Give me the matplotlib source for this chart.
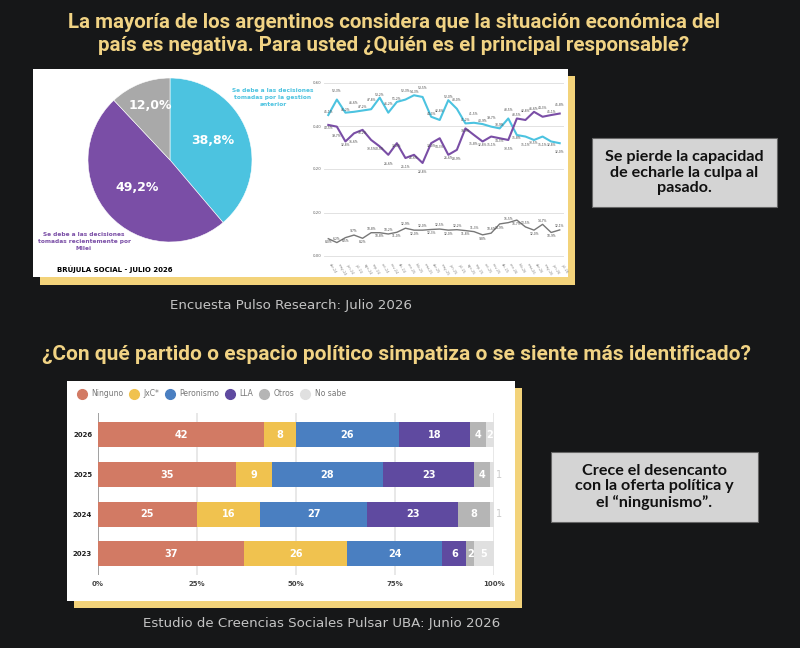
import matplotlib
matplotlib.use('Agg')
import matplotlib.pyplot as plt
import matplotlib.font_manager as fm
from matplotlib.patches import Rectangle
from matplotlib.lines import Line2D

# --- data -------------------------------------------------------------
pie_labels = ['gestion anterior', 'Milei', 'otros']
pie_values = [38.8, 49.2, 12.0]

# serie mensual (tendencia) de la encuesta Pulso
anterior = [0.451, 0.523, 0.462, 0.466, 0.472, 0.478, 0.532, 0.462, 0.512, 0.523,
            0.543, 0.535, 0.443, 0.428, 0.520, 0.480, 0.412, 0.415, 0.409, 0.397,
            0.389, 0.435, 0.358, 0.351, 0.335, 0.351, 0.328, 0.320]
milei = [0.405, 0.397, 0.328, 0.366, 0.382, 0.335, 0.305, 0.266, 0.320, 0.251,
         0.266, 0.228, 0.320, 0.343, 0.266, 0.289, 0.389, 0.358, 0.328, 0.351,
         0.343, 0.335, 0.435, 0.428, 0.466, 0.443, 0.451, 0.458]
otros_serie = [0.080, 0.062, 0.085, 0.097, 0.082, 0.108, 0.108, 0.102, 0.110, 0.129,
               0.120, 0.120, 0.123, 0.125, 0.120, 0.122, 0.118, 0.113, 0.098, 0.106,
               0.149, 0.155, 0.167, 0.135, 0.120, 0.147, 0.109, 0.121]
meses = ['abr', 'may', 'jun', 'jul', 'ago', 'sep', 'oct', 'nov', 'dic', 'ene', 'feb', 'mar',
         'abr', 'may', 'jun', 'jul', 'ago', 'sep', 'oct', 'nov', 'dic', 'ene', 'feb', 'mar',
         'abr', 'may', 'jun', 'jul']
anios = ['24'] * 9 + ['25'] * 12 + ['26'] * 7
fechas = [m + '-' + a for m, a in zip(meses, anios)]

years = ['2026', '2025', '2024', '2023']
partidos = ['Ninguno', 'JxC*', 'Peronismo', 'LLA', 'Otros', 'No sabe']
ninguno = [42, 35, 25, 37]
jxc = [8, 9, 16, 26]
peronismo = [26, 28, 27, 24]
lla = [18, 23, 23, 6]
otros = [4, 4, 8, 2]
no_sabe = [2, 1, 1, 5]

# --- style ------------------------------------------------------------
W, H = 800, 648
BG = '#161718'
GOLD = '#f1d384'
CYAN = '#4cc3e0'
PURPLE = '#7a4ea6'
bar_colors = ['#d27a64', '#f0c24f', '#4a7fc1', '#5f4aa0', '#b5b5b5', '#e0e0e0']

avail = {f.name for f in fm.fontManager.ttflist}
title_font = 'Liberation Sans Narrow' if 'Liberation Sans Narrow' in avail else 'Roboto'
box_font = 'Lato' if 'Lato' in avail else 'DejaVu Sans'


def fbox(x0, y0, x1, y1):
    return [x0 / W, 1 - y1 / H, (x1 - x0) / W, (y1 - y0) / H]


def fx(x):
    return x / W


def fy(y):
    return 1 - y / H


def card(fig, x0, y0, x1, y1, face, edge=None, lw=0, z=-5):
    fig.patches.append(Rectangle((fx(x0), fy(y1)), (x1 - x0) / W, (y1 - y0) / H,
                                 transform=fig.transFigure, facecolor=face,
                                 edgecolor=edge if edge else face, linewidth=lw, zorder=z))


def pct(v):
    return f'{v * 100:.1f}%'.replace('.', ',')


fig = plt.figure(figsize=(8, 6.48), dpi=100)
fig.patch.set_facecolor(BG)

# titles
fig.text(0.4925, fy(34), 'La mayoría de los argentinos considera que la situación económica del\n'
         'país es negativa. Para usted ¿Quién es el principal responsable?',
         ha='center', va='center', color=GOLD, fontsize=14.8, fontweight='bold',
         family=title_font, linespacing=1.25)
fig.text(0.496, fy(355), '¿Con qué partido o espacio político simpatiza o se siente más identificado?',
         ha='center', va='center', color=GOLD, fontsize=15, fontweight='bold', family=title_font)

# cards
card(fig, 40, 76, 575, 285, '#f3d37a', z=-6)
card(fig, 33, 69, 568, 277, 'white')
card(fig, 74, 388, 522, 608, '#f3d37a', z=-6)
card(fig, 67, 381, 515, 601, 'white')

# --- pie --------------------------------------------------------------
ax = fig.add_axes(fbox(88, 78, 252, 242))
ax.pie(pie_values, colors=[CYAN, PURPLE, '#a9a9a9'], startangle=90, counterclock=False,
       wedgeprops=dict(edgecolor='white', linewidth=0.4))
ax.set_xlim(-1, 1)
ax.set_ylim(-1, 1)
ax.set_aspect('equal')
for v, (px, py) in zip(pie_values, [(0.52, 0.24), (-0.40, -0.33), (-0.24, 0.66)]):
    ax.text(px, py, f'{v:.1f}%'.replace('.', ','), ha='center', va='center',
            color='white', fontsize=9, fontweight='bold')

fig.text(fx(273), fy(98), 'Se debe a las decisiones\ntomadas por la gestion\nanterior',
         ha='center', va='center', color=CYAN, fontsize=4.2, fontweight='bold', linespacing=1.5)
fig.text(fx(84), fy(242), 'Se debe a las decisiones\ntomadas recientemente por\nMilei',
         ha='center', va='center', color=PURPLE, fontsize=4.2, fontweight='bold', linespacing=1.5)
fig.text(fx(57), fy(269), 'BRÚJULA SOCIAL - JULIO 2026', ha='left', va='center',
         color='black', fontsize=5, fontweight='bold')

# --- line charts --------------------------------------------------------
x = list(range(len(anterior)))
ax1 = fig.add_axes(fbox(324, 78.7, 564, 173.3))
ax1.set_facecolor('none')
ax1.plot(x, anterior, color=CYAN, lw=1.5)
ax1.plot(x, milei, color=PURPLE, lw=1.5)
ax1.set_ylim(0.18, 0.62)
ax1.set_xlim(-0.5, len(x) - 0.5)
ax1.set_yticks([0.2, 0.4, 0.6])
ax1.set_yticklabels(['0,20', '0,40', '0,60'])
ax1.grid(axis='y', color='#dddddd', lw=0.6)
for i in x:
    a, m = anterior[i], milei[i]
    step = 0.005 if i % 2 == 0 else 0.032
    hi, lo = (a, m) if a >= m else (m, a)
    ax1.text(i, hi + step, pct(hi), ha='center', va='bottom', fontsize=2.2, color='#444')
    ax1.text(i, lo - step, pct(lo), ha='center', va='top', fontsize=2.2, color='#444')

ax2 = fig.add_axes(fbox(324, 208.7, 564, 258))
ax2.set_facecolor('none')
ax2.plot(x, otros_serie, color='#777777', lw=1.0)
ax2.set_ylim(-0.01, 0.22)
ax2.set_xlim(-0.5, len(x) - 0.5)
ax2.set_yticks([0.0, 0.2])
ax2.set_yticklabels(['0,00', '0,20'])
ax2.grid(axis='y', color='#dddddd', lw=0.6)
ax2.set_xticks(x)
ax2.set_xticklabels(fechas, rotation=-60, ha='left', fontsize=2.5, color='#888')
for i, v in enumerate(otros_serie):
    up = i % 2 == 1
    ax2.text(i, v + (0.008 if up else -0.008), pct(v),
             ha='center', va='bottom' if up else 'top', fontsize=2.2, color='#444')

for a in (ax1, ax2):
    for s in a.spines.values():
        s.set_visible(False)
    a.tick_params(axis='y', length=0, labelsize=2.8, labelcolor='#666', pad=2)
    a.tick_params(axis='x', length=0)
ax1.set_xticks([])

fig.text(fx(291), fy(305), 'Encuesta Pulso Research: Julio 2026', ha='center', va='center',
         color='#c4c4c4', fontsize=9.6)

# --- stacked bars -------------------------------------------------------
axb = fig.add_axes(fbox(97.7, 413, 494, 575))
axb.set_facecolor('none')
ypos = [3, 2, 1, 0]
series = [ninguno, jxc, peronismo, lla, otros, no_sabe]
left = [0, 0, 0, 0]
for name, vals, col in zip(partidos, series, bar_colors):
    axb.barh(ypos, vals, left=left, height=0.63, color=col, label=name, zorder=3)
    for y, l, v in zip(ypos, left, vals):
        if v >= 2:
            axb.text(l + v / 2, y, str(v), ha='center', va='center', color='white',
                     fontsize=7, fontweight='bold', zorder=4)
        else:
            axb.text(101.2, y, str(v), ha='center', va='center', color='#cccccc',
                     fontsize=7, clip_on=False, zorder=4)
    left = [a + b for a, b in zip(left, vals)]

axb.set_xlim(0, 100)
axb.set_ylim(-0.53, 3.55)
axb.set_yticks(ypos)
axb.set_yticklabels(years, fontsize=5, fontweight='bold', color='#222')
axb.set_xticks([0, 25, 50, 75, 100])
axb.set_xticklabels(['0%', '25%', '50%', '75%', '100%'], fontsize=5, fontweight='bold', color='#444')
axb.tick_params(length=0, pad=4)
for s in axb.spines.values():
    s.set_visible(False)
for xv in [0, 25, 50, 75, 100]:
    axb.axvline(xv, color='#999999' if xv == 0 else '#e6e6e6', lw=1.3, zorder=1)

handles = [Line2D([], [], marker='o', ls='', ms=7, mfc=c, mec=c) for c in bar_colors]
fig.legend(handles, partidos, loc='center left', bbox_to_anchor=(fx(74), fy(394)),
           ncol=6, frameon=False, fontsize=5.5, labelcolor='#777', handletextpad=0.2,
           columnspacing=0.45, borderaxespad=0, borderpad=0)

fig.text(fx(322), fy(623), 'Estudio de Creencias Sociales Pulsar UBA: Junio 2026', ha='center',
         va='center', color='#c4c4c4', fontsize=9.6)

# --- comment boxes -------------------------------------------------------
card(fig, 592, 138, 777, 207, '#d4d4d4', edge='#666666', lw=0.8, z=-4)
fig.text(fx(684.5), fy(172.5), 'Se pierde la capacidad\nde echarle la culpa al\npasado.',
         ha='center', va='center', color='#111', fontsize=11.6, fontweight='bold',
         family=box_font, linespacing=1.1)
card(fig, 551, 452, 758, 522, '#d4d4d4', edge='#666666', lw=0.8, z=-4)
fig.text(fx(654.5), fy(487), 'Crece el desencanto\ncon la oferta política y\nel “ningunismo”.',
         ha='center', va='center', color='#111', fontsize=11.6, fontweight='bold',
         family=box_font, linespacing=1.1)

fig.savefig('out.png', dpi=100, facecolor=BG)
